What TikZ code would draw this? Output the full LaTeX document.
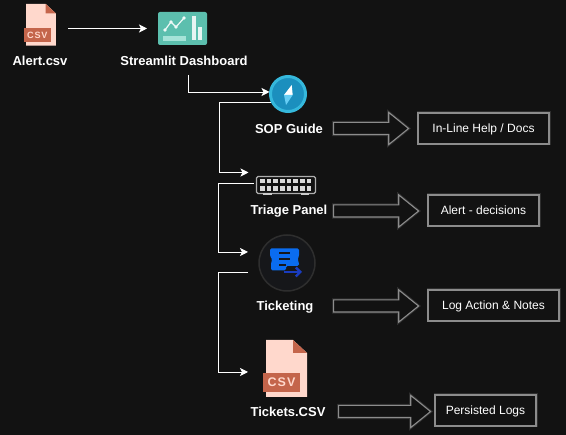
\documentclass[tikz,border=0pt]{standalone}
\usepackage{fontspec}
\setmainfont{Liberation Sans}
\usetikzlibrary{shapes.arrows,arrows.meta}
\definecolor{bgdark}{HTML}{121212}
\definecolor{edgegrey}{HTML}{8C8C8C}
\definecolor{glowgrey}{HTML}{2E2E2E}
\definecolor{csvpage}{HTML}{FFD8CC}
\definecolor{csvtag}{HTML}{C4654B}
\definecolor{dashteal}{HTML}{5CBFAE}
\definecolor{dashpale}{HTML}{A5E3D8}
\definecolor{compassring}{HTML}{35B8DC}
\definecolor{compassblue}{HTML}{1B8FBE}
\definecolor{ticketblue}{HTML}{0A6CF0}
\definecolor{ticketdark}{HTML}{1A3CC0}
\definecolor{ticketdisc}{HTML}{16171A}
\tikzset{
  flow/.style={white, line width=0.9pt, -{Stealth[length=8pt,width=8pt,inset=2pt]}},
  title/.style={text=white, font=\fontsize{13}{15}\selectfont\bfseries, inner sep=0pt},
  notebox/.style={draw=edgegrey, line width=1.1pt, fill=bgdark, inner sep=0pt,
    minimum height=31pt, text=white, font=\fontsize{12}{14}\selectfont,
    text height=8.6pt, text depth=0pt,
    preaction={draw=glowgrey, line width=3pt}},
  blockarrow/.style={single arrow, draw=edgegrey, line width=1.1pt, fill=bgdark,
    anchor=west, inner xsep=0pt, inner ysep=5.5pt, minimum width=31pt,
    single arrow head extend=10pt, single arrow tip angle=78,
    preaction={draw=glowgrey, line width=3pt}},
  iconbox/.style={inner sep=0pt, outer sep=0pt},
  csvfile/.pic={
    \fill[csvpage] (0,0) -- (27,0) -- (41,13) -- (41,57) -- (0,57) -- cycle;
    \fill[csvtag] (27,0) -- (41,13) -- (27,13) -- cycle;
    \fill[csvtag] (-3,33) rectangle (34,52);
    \node (tag) [transform shape, text=csvpage, inner sep=0pt,
      font=\fontsize{12.5}{13}\selectfont\bfseries] at (15.5,42.5) {C\kern1pt S\kern1pt V};
  }
}
\begin{document}
\begin{tikzpicture}[x=1pt, y=-1pt]
  \fill[bgdark] (0,0) rectangle (566,435);
  \useasboundingbox (0,0) rectangle (566,435);

  % csv input
  \node (alerticon) [iconbox, minimum width=32pt, minimum height=41pt] at (40,24.5) {};
  \pic[scale=0.73] at (26,4) {csvfile};
  \node (alertlabel) [title] at (40,61) {Alert.csv};

  % dashboard
  \node (dash) [iconbox, fill=dashteal, rounded corners=2pt, minimum width=49pt,
    minimum height=33pt] at (182.5,28.5) {};
  \fill[dashpale] (163,36) rectangle (186,41);
  \fill[white!85!dashteal] (192,16) rectangle (196,40);
  \fill[white!85!dashteal] (197.5,27) rectangle (202,40);
  \draw[white!90!dashteal, line width=1.2pt] (165,30) -- (171,22) -- (176,27) -- (184,18);
  \foreach \px/\py in {165/30,171/22,176/27,184/18}
    \fill[white!90!dashteal] (\px,\py) circle (1.8);
  \node (dashlabel) [title] at (184,61) {Streamlit Dashboard};

  % compass
  \node (sop) [iconbox, circle, fill=compassblue, draw=compassring, line width=3pt,
    minimum size=35pt] at (288,94) {};
  \fill[white] (291.7,85) -- (284,95) -- (292.7,95) -- cycle;
  \fill[cyan!60!white] (284,95) -- (286,105) -- (292.7,95) -- cycle;
  \node (soplabel) [title] at (289,129) {SOP Guide};

  % patch panel
  \node (triage) [iconbox, draw=edgegrey!70!white, line width=1.3pt, fill=bgdark,
    rounded corners=1.5pt, minimum width=59pt, minimum height=17pt] at (286,185) {};
  \foreach \i in {0,...,7} {
    \fill[white!85!black] (260+\i*6.67,178.6) rectangle ++(4.8,4.8);
    \fill[white!85!black] (260+\i*6.67,185.9) rectangle ++(4.8,4.8);
  }
  \fill[white!80!black] (263,193) rectangle (272,195);
  \fill[white!80!black] (301,193) rectangle (309,195);
  \node (triagelabel) [title] at (289,211) {Triage Panel};

  % ticket
  \node (ticket) [iconbox, circle, fill=ticketdisc, draw=glowgrey, line width=1.5pt,
    minimum size=56pt] at (287,263) {};
  \fill[ticketblue, rounded corners=1.5pt] (270,248.5) -- (299,248.5) -- (299,256.5) -- (297.5,259.5)
    -- (299,262.5) -- (299,266) -- (286,266) -- (286,270.5) -- (271,270.5) -- (271,262.5)
    -- (272.5,259.5) -- (270,256.5) -- cycle;
  \draw[ticketdisc, line width=1.5pt] (279,253) -- (290,253) (279,259) -- (290,259) (279,265) -- (286,265);
  \draw[ticketdark, line width=2.4pt, -{Straight Barb[length=4.5pt,width=9pt]}] (284,272) -- (302,272);
  \node (ticketlabel) [title] at (285,307) {Ticketing};

  % csv output
  \node (tickets) [iconbox, minimum width=44pt, minimum height=57pt] at (285,368.5) {};
  \pic at (266,340) {csvfile};
  \node (ticketslabel) [title] at (288,412) {Tickets.CSV};

  % result boxes
  \node (helpbox) [notebox, minimum width=131pt] at (483.5,128.5) {In-Line Help / Docs};
  \node (decisionbox) [notebox, minimum width=111pt] at (483.5,210.5) {Alert - decisions};
  \node (logbox) [notebox, minimum width=131pt] at (493.5,305.5) {Log Action \& Notes};
  \node (persistbox) [notebox, minimum width=101pt] at (485.5,410.5) {Persisted Logs};

  % block arrows
  \node (helparrow) [blockarrow, minimum height=75pt] at (333,128.5) {};
  \node (decisionarrow) [blockarrow, minimum height=85pt] at (333,211) {};
  \node (logarrow) [blockarrow, minimum height=85pt] at (333,306) {};
  \node (persistarrow) [blockarrow, minimum height=92pt] at (338,411.5) {};

  % connectors
  \path[flow] ([xshift=12pt,yshift=-4pt]alerticon.east) edge ([xshift=-11pt]dash.west);
  \draw[flow] ([xshift=4pt,yshift=-9pt]dashlabel.south) |- ([xshift=-1pt,yshift=2pt]sop.west);
  \draw[flow] ([yshift=-8pt]sop.west) -- ++(-51,0) |- ([xshift=-8pt,yshift=4pt]triage.north west);
  \draw[flow] ([xshift=-3pt,yshift=2pt]triage.west) -- ++(-35,0) |- ([xshift=-11pt,yshift=11pt]ticket.west);
  \draw[flow] ([xshift=-11pt,yshift=-9.5pt]ticket.west) -- ++(-30,0) |- ([xshift=-15pt,yshift=-3.5pt]tickets.west);
\end{tikzpicture}
\end{document}
